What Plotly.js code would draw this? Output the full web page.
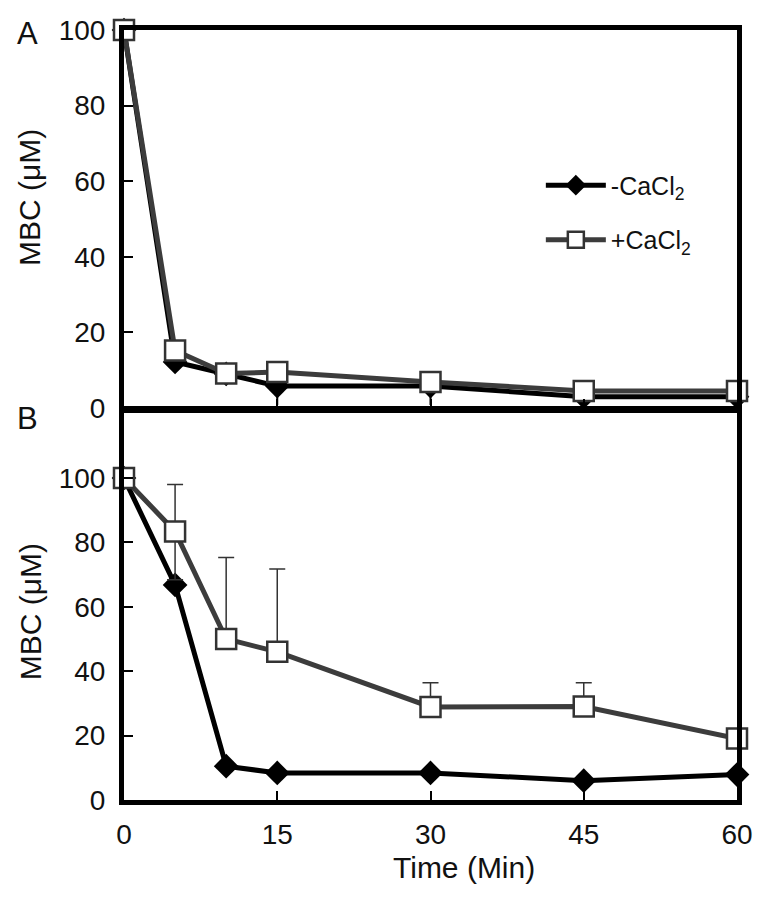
<!DOCTYPE html>
<html>
<head>
<meta charset="utf-8">
<script src="https://cdn.plot.ly/plotly-3.0.1.min.js"></script>
<style>html,body{margin:0;padding:0;background:#fff;}#chart{width:768px;height:901px;}</style>
</head>
<body>
<div id="chart"></div>
<script>
// Time points (min)
const timeMin = [0, 5, 10, 15, 30, 45, 60];
const xTickVals = [0, 15, 30, 45, 60];
const xTickText = ["0", "15", "30", "45", "60"];
const yTickVals = [0, 20, 40, 60, 80, 100];

// Panel A
const aMinusCa = [100, 12.2, 9.0, 5.8, 5.8, 3.0, 3.0];
const aMinusCaErrMinus = [0, 2, 0, 5, 5, 0, 0];
const aPlusCa = [100, 15.2, 9.1, 9.5, 6.9, 4.5, 4.5];
const aPlusCaErrPlus = [4, 0, 2, 0, 0, 0, 0];

// Panel B
const bMinusCa = [100, 66.8, 10.5, 8.4, 8.4, 6.0, 7.9];
const bPlusCa = [100, 83.4, 50.0, 46.0, 28.9, 29.0, 19.1];
const bPlusCaErrPlus = [0, 14.6, 25.3, 25.7, 7.5, 7.4, 0];
const bPlusCaErrMinus = [0, 15, 0, 0, 0, 0, 0];

const legendNames = ["-CaCl<sub>2</sub>", "+CaCl<sub>2</sub>"];

const FONT = "Liberation Sans, Arial, Helvetica, sans-serif";
const blackStyle = {
  mode: "lines+markers",
  line: {color: "#000000", width: 5},
  marker: {symbol: "diamond", size: 19, color: "#000000"},
  cliponaxis: false
};
const grayStyle = {
  mode: "lines+markers",
  line: {color: "#3c3c3c", width: 5},
  marker: {symbol: "square", size: 20, color: "#ffffff", line: {color: "#333333", width: 2.5}},
  cliponaxis: false
};

const traces = [
  Object.assign({}, blackStyle, {
    x: timeMin, y: aMinusCa, xaxis: "x2", yaxis: "y2", name: legendNames[0],
    legendgroup: "g1", showlegend: true,
    error_y: {type: "data", symmetric: false, array: aMinusCa.map(() => 0), arrayminus: aMinusCaErrMinus, color: "#000", thickness: 2, width: 0}
  }),
  Object.assign({}, grayStyle, {
    x: timeMin, y: aPlusCa, xaxis: "x2", yaxis: "y2", name: legendNames[1],
    legendgroup: "g2", showlegend: true,
    error_y: {type: "data", symmetric: false, array: aPlusCaErrPlus, arrayminus: aPlusCa.map(() => 0), color: "#333", thickness: 1.5, width: 0}
  }),
  Object.assign({}, blackStyle, {
    x: timeMin, y: bMinusCa, xaxis: "x", yaxis: "y", name: legendNames[0],
    legendgroup: "g1", showlegend: false
  }),
  Object.assign({}, grayStyle, {
    x: timeMin, y: bPlusCa, xaxis: "x", yaxis: "y", name: legendNames[1],
    legendgroup: "g2", showlegend: false,
    error_y: {type: "data", symmetric: false, array: bPlusCaErrPlus, arrayminus: bPlusCaErrMinus, color: "#333", thickness: 1.5, width: 8}
  })
];

const axisCommon = {
  showline: true, linecolor: "#000", linewidth: 5, mirror: true,
  ticks: "inside", ticklen: 9, tickwidth: 2, tickcolor: "#000",
  showgrid: false, zeroline: false,
  tickfont: {family: FONT, size: 28, color: "#111"}
};

const layout = {
  width: 768, height: 901,
  margin: {l: 124, r: 31, t: 30, b: 101},
  paper_bgcolor: "#fff", plot_bgcolor: "#fff",
  font: {family: FONT, color: "#111"},
  showlegend: true,
  legend: {
    x: 0.68, xanchor: "left", y: 0.828, yanchor: "top",
    bgcolor: "rgba(0,0,0,0)", borderwidth: 0,
    font: {family: FONT, size: 25, color: "#111"},
    tracegroupgap: 19, itemwidth: 60
  },
  xaxis: Object.assign({}, axisCommon, {
    anchor: "y", range: [0, 60], tickvals: xTickVals, ticktext: xTickText,
    ticklabelstandoff: 5
  }),
  xaxis2: Object.assign({}, axisCommon, {
    anchor: "y2", matches: "x", range: [0, 60], tickvals: xTickVals,
    showticklabels: false
  }),
  yaxis: Object.assign({}, axisCommon, {
    domain: [0, 0.5052], range: [0, 120.8], tickvals: yTickVals,
    ticklabelstandoff: 8
  }),
  yaxis2: Object.assign({}, axisCommon, {
    domain: [0.5091, 1], range: [0, 100], tickvals: yTickVals,
    ticklabelstandoff: 8
  }),
  annotations: [
    {text: "A", xref: "paper", yref: "paper", x: -0.157, y: 0.996, showarrow: false,
     font: {family: FONT, size: 31, color: "#111"}, xanchor: "center", yanchor: "middle"},
    {text: "B", xref: "paper", yref: "paper", x: -0.157, y: 0.496, showarrow: false,
     font: {family: FONT, size: 31, color: "#111"}, xanchor: "center", yanchor: "middle"},
    {text: "MBC (μM)", xref: "paper", yref: "paper", x: -0.153, y: 0.782, showarrow: false,
     textangle: -90, font: {family: FONT, size: 30, color: "#111"}, xanchor: "center", yanchor: "middle"},
    {text: "MBC (μM)", xref: "paper", yref: "paper", x: -0.153, y: 0.244, showarrow: false,
     textangle: -90, font: {family: FONT, size: 30, color: "#111"}, xanchor: "center", yanchor: "middle"},
    {text: "Time (Min)", xref: "paper", yref: "paper", x: 0.555, y: -0.088, showarrow: false,
     font: {family: FONT, size: 30, color: "#111"}, xanchor: "center", yanchor: "middle"}
  ]
};

Plotly.newPlot("chart", traces, layout, {displayModeBar: false, staticPlot: true});
</script>
</body>
</html>
